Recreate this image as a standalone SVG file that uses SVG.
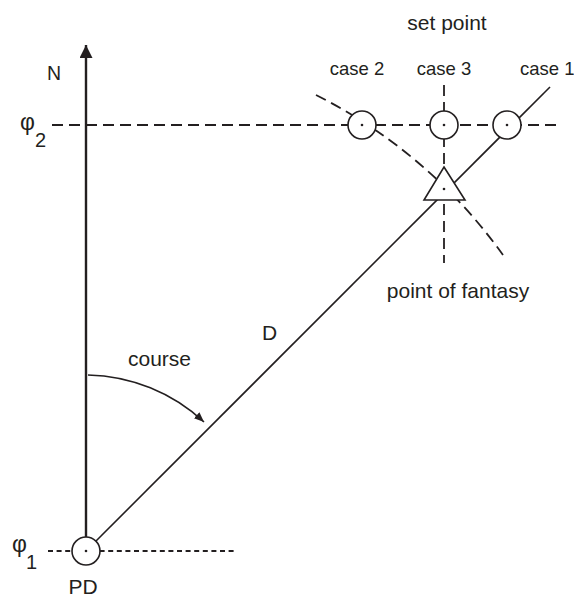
<svg xmlns="http://www.w3.org/2000/svg" width="574" height="599" viewBox="0 0 574 599">
<style>
text{font-family:"Liberation Sans",Arial,sans-serif;fill:#231f20}
.lbl{font-size:21px}
.case{font-size:18.5px}
.phi{font-size:23px}
.sub{font-size:20px}
.dash{fill:none;stroke:#231f20;stroke-width:1.8;stroke-dasharray:11 6}
.dot{fill:none;stroke:#231f20;stroke-width:1.8;stroke-dasharray:5 3.6}
.solid{fill:none;stroke:#231f20;stroke-width:1.6}
.node{fill:#fff;stroke:#231f20;stroke-width:1.6}
.ctr{fill:#231f20}
</style>
<defs>
<marker id="ah" markerUnits="userSpaceOnUse" markerWidth="12" markerHeight="10" refX="10" refY="4" orient="auto">
<path d="M0,0 L10,4 L0,8 Z" fill="#231f20"/>
</marker>
<marker id="north" markerUnits="userSpaceOnUse" markerWidth="16" markerHeight="16" refX="13" refY="6.5" orient="auto">
<path d="M0,0 L13,6.5 L0,13 Z" fill="#231f20"/>
</marker>
</defs>
<rect width="574" height="599" fill="#fff"/>
<g id="connectors">
<line class="dash" x1="52" y1="125" x2="558" y2="125"/>
<line class="dot" x1="48" y1="551" x2="235" y2="551"/>
<line class="dash" x1="444" y1="85" x2="444" y2="263"/>
<path class="dash" d="M316 95 A512 512 0 0 1 503 255"/>
<line class="solid" x1="86" y1="551" x2="550" y2="87"/>
<line x1="86" y1="537" x2="86" y2="45" stroke="#231f20" stroke-width="2.4" marker-end="url(#north)"/>
<path class="solid" d="M88 375 A176 176 0 0 1 204 422" marker-end="url(#ah)"/>
</g>
<g id="node-pd">
<circle class="node" cx="86" cy="551" r="14"/>
<circle class="ctr" cx="86" cy="551" r="1.3"/>
<text class="lbl" x="83" y="594" text-anchor="middle">PD</text>
</g>
<g id="node-case2">
<circle class="node" cx="362" cy="125" r="14"/>
<circle class="ctr" cx="362" cy="125" r="1.3"/>
<text class="case" x="357" y="75" text-anchor="middle">case 2</text>
</g>
<g id="node-case3">
<circle class="node" cx="444" cy="125" r="14"/>
<circle class="ctr" cx="444" cy="125" r="1.3"/>
<text class="case" x="444" y="75" text-anchor="middle">case 3</text>
</g>
<g id="node-case1">
<circle class="node" cx="507" cy="125" r="14"/>
<circle class="ctr" cx="507" cy="125" r="1.3"/>
<text class="case" x="520" y="75">case 1</text>
</g>
<g id="node-fantasy">
<path class="node" d="M444 167 L465 200 L424 200 Z"/>
<circle class="ctr" cx="444" cy="189" r="1.3"/>
<text class="lbl" x="458" y="298" text-anchor="middle">point of fantasy</text>
</g>
<g id="labels">
<text class="lbl" x="447" y="30" text-anchor="middle">set point</text>
<text x="47" y="80" style="font-size:19.5px">N</text>
<text class="lbl" x="262" y="340">D</text>
<text class="lbl" x="128" y="366">course</text>
<text class="phi" x="20" y="130">φ</text>
<text class="sub" x="35" y="147">2</text>
<text class="phi" x="12" y="552">φ</text>
<text class="sub" x="26" y="569">1</text>
</g>
</svg>
